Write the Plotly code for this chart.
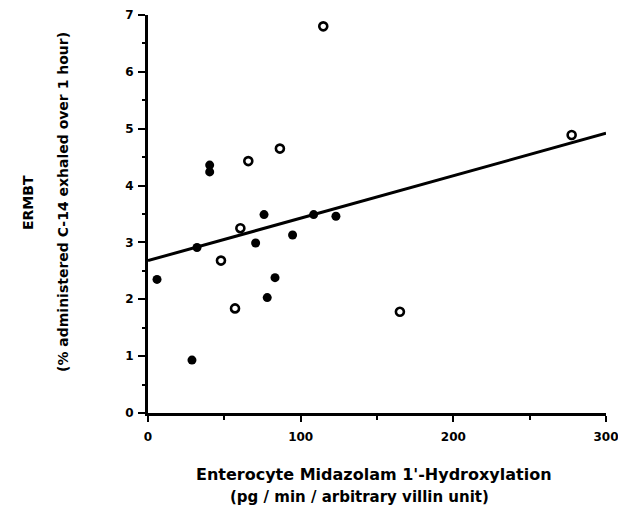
import plotly.graph_objects as go

# Filled-circle subjects
filled_x = [40.4, 40.4, 5.9, 28.8, 32.1, 70.5, 76.0, 78.1, 83.2, 94.7, 108.5, 123.1]
filled_y = [4.36, 4.24, 2.35, 0.93, 2.91, 2.99, 3.49, 2.03, 2.38, 3.13, 3.49, 3.46]

# Open-circle subjects
open_x = [114.8, 65.7, 86.4, 47.8, 57.0, 60.5, 277.5, 165.0]
open_y = [6.80, 4.43, 4.65, 2.68, 1.84, 3.25, 4.89, 1.78]

# Regression line endpoints
line_x = [0, 300]
line_y = [2.68, 4.92]

x_ticks = [0, 100, 200, 300]
y_ticks = [0, 1, 2, 3, 4, 5, 6, 7]

FONT = "DejaVu Sans"

fig = go.Figure()
fig.add_trace(go.Scatter(x=line_x, y=line_y, mode="lines",
                         line=dict(color="black", width=3), showlegend=False))
fig.add_trace(go.Scatter(x=filled_x, y=filled_y, mode="markers",
                         marker=dict(symbol="circle", size=9, color="black"),
                         showlegend=False))
fig.add_trace(go.Scatter(x=open_x, y=open_y, mode="markers",
                         marker=dict(symbol="circle-open", size=8, color="black",
                                     line=dict(width=2.6, color="black")),
                         showlegend=False))

fig.update_layout(
    width=618, height=506, autosize=False,
    margin=dict(l=148, r=12, t=15, b=93, autoexpand=False),
    paper_bgcolor="white", plot_bgcolor="white",
    font=dict(family=FONT, size=12, color="black"),
    xaxis=dict(range=[0, 300], tickvals=x_ticks,
               ticktext=[f"<b>{v}</b>" for v in x_ticks],
               ticks="outside", ticklen=6, automargin=False,
               ticklabelstandoff=5, ticklabeloverflow="allow",
               tickwidth=2, tickcolor="black", showline=True, linewidth=3,
               linecolor="black", showgrid=False, zeroline=False,
               tickfont=dict(size=12, family=FONT, color="black"),
               minor=dict(tickvals=[50, 150, 250], ticks="outside", ticklen=4,
                          tickwidth=2, tickcolor="black", showgrid=False)),
    yaxis=dict(range=[0, 7], tickvals=y_ticks,
               ticktext=[f"<b>{v}</b>" for v in y_ticks],
               ticks="outside", ticklen=7, automargin=False,
               ticklabelstandoff=2, ticklabeloverflow="allow",
               tickwidth=2, tickcolor="black", showline=True, linewidth=3,
               linecolor="black", showgrid=False, zeroline=False,
               tickfont=dict(size=12, family=FONT, color="black"),
               minor=dict(tickvals=[0.5, 1.5, 2.5, 3.5, 4.5, 5.5, 6.5],
                          ticks="outside", ticklen=3, tickwidth=2,
                          tickcolor="black", showgrid=False)),
    annotations=[
        dict(text="<b>ERMBT</b>", xref="paper", yref="paper", x=-(148 - 28) / 458,
             y=(413 - 203) / 398, textangle=-90, showarrow=False,
             xanchor="center", yanchor="middle",
             font=dict(size=14, family=FONT)),
        dict(text="<b>(% administered C-14 exhaled over 1 hour)</b>", xref="paper",
             yref="paper", x=-(148 - 63) / 458, y=(413 - 202) / 398,
             textangle=-90, showarrow=False, xanchor="center", yanchor="middle",
             font=dict(size=14, family=FONT)),
        dict(text="<b>Enterocyte Midazolam 1'-Hydroxylation</b>", xref="paper",
             yref="paper", x=(374 - 148) / 458, y=-(475 - 413) / 398,
             showarrow=False, xanchor="center", yanchor="middle",
             font=dict(size=16, family=FONT)),
        dict(text="<b>(pg / min / arbitrary villin unit)</b>", xref="paper",
             yref="paper", x=(359 - 148) / 458, y=-(497 - 413) / 398,
             showarrow=False, xanchor="center", yanchor="middle",
             font=dict(size=15, family=FONT)),
    ],
)

fig.write_html("out.html", config={"responsive": False})
